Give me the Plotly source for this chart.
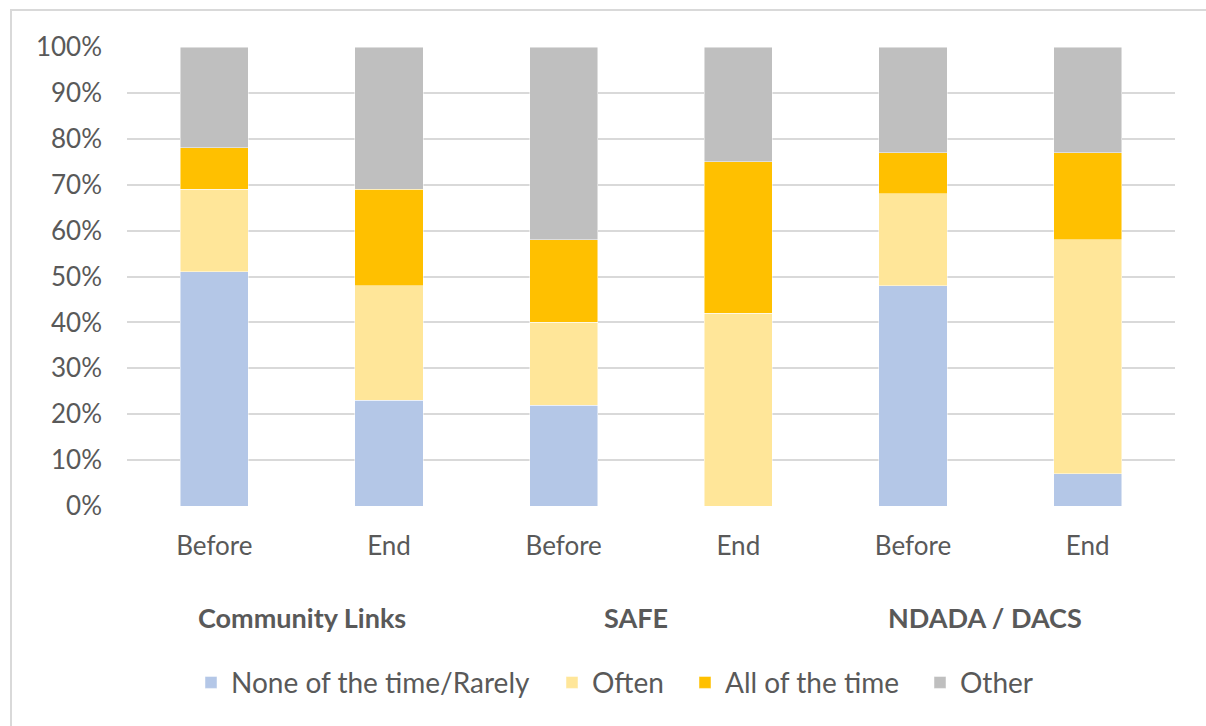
import plotly.graph_objects as go

# Survey responses by programme and time point (percent of respondents)
programmes = ["Community Links", "SAFE", "NDADA / DACS"]
time_points = ["Before", "End", "Before", "End", "Before", "End"]

series_names = ["None of the time/Rarely", "Often", "All of the time", "Other"]
none_rarely = [51, 23, 22, 0, 48, 7]
often = [18, 25, 18, 42, 20, 51]
all_time = [9, 21, 18, 33, 9, 19]
other = [22, 31, 42, 25, 23, 23]

colors = ["#B4C7E7", "#FFE699", "#FFC000", "#BFBFBF"]
text_color = "#595959"
font_family = "Lato, 'Open Sans', sans-serif"
label_size = 26

# Plot-area geometry in pixels, used to place legend entries in paper units
plot_left, plot_width = 127, 1048
legend_px = [191, 552, 685, 920]

x_idx = list(range(len(time_points)))

fig = go.Figure()
for k, (name, vals, col) in enumerate(zip(series_names, [none_rarely, often, all_time, other], colors)):
    fig.add_trace(go.Bar(
        x=x_idx,
        y=[v / 100 for v in vals],
        name=name,
        legend="legend" if k == 0 else f"legend{k + 1}",
        marker=dict(color=col, line=dict(color="rgba(255,255,255,0.6)", width=0.8)),
        width=0.39,
        hovertemplate="%{y:.0%}<extra>" + name + "</extra>",
    ))

# Programme labels beneath each Before/End pair
label_shift = [0, -15, -15]
for i, prog in enumerate(programmes):
    fig.add_annotation(
        x=2 * i + 0.5, xref="x",
        y=-0.242, yref="paper",
        yanchor="middle",
        text="<b>" + prog + "</b>",
        showarrow=False,
        xshift=label_shift[i],
        font=dict(size=27, color=text_color, family=font_family),
    )

# Chart-area border
fig.add_shape(
    type="rect", xref="paper", yref="paper",
    x0=(11 - plot_left) / plot_width, x1=1.1, y0=-0.5, y1=1 + 37 / 459,
    line=dict(color="#D9D9D9", width=2), fillcolor="rgba(0,0,0,0)", layer="below",
)

legend_common = dict(
    orientation="h", xanchor="left", y=-0.385, yanchor="middle",
    font=dict(size=28, color=text_color, family=font_family),
    itemclick=False, itemdoubleclick=False, bgcolor="rgba(0,0,0,0)",
)
legend_layout = {}
for k, px in enumerate(legend_px):
    key = "legend" if k == 0 else f"legend{k + 1}"
    legend_layout[key] = dict(legend_common, x=(px - plot_left) / plot_width)

fig.update_layout(
    barmode="stack",
    width=1206, height=726,
    margin=dict(l=plot_left, r=31, t=47, b=220),
    plot_bgcolor="white", paper_bgcolor="white",
    font=dict(family=font_family, color=text_color, size=label_size),
    showlegend=True,
    xaxis=dict(
        tickmode="array", tickvals=x_idx, ticktext=time_points,
        range=[-0.5, len(time_points) - 0.5],
        showgrid=False, zeroline=False, showline=False,
        ticks="", ticklabelstandoff=22,
        tickfont=dict(size=label_size, color=text_color, family=font_family),
    ),
    yaxis=dict(
        range=[0, 1], tickformat=".0%", dtick=0.1,
        showgrid=True, gridcolor="#D9D9D9", gridwidth=1.5,
        zeroline=False, showline=False, ticks="",
        ticklabelstandoff=24,
        tickfont=dict(size=label_size, color=text_color, family=font_family),
    ),
    **legend_layout,
)

fig.write_html("out.html")
